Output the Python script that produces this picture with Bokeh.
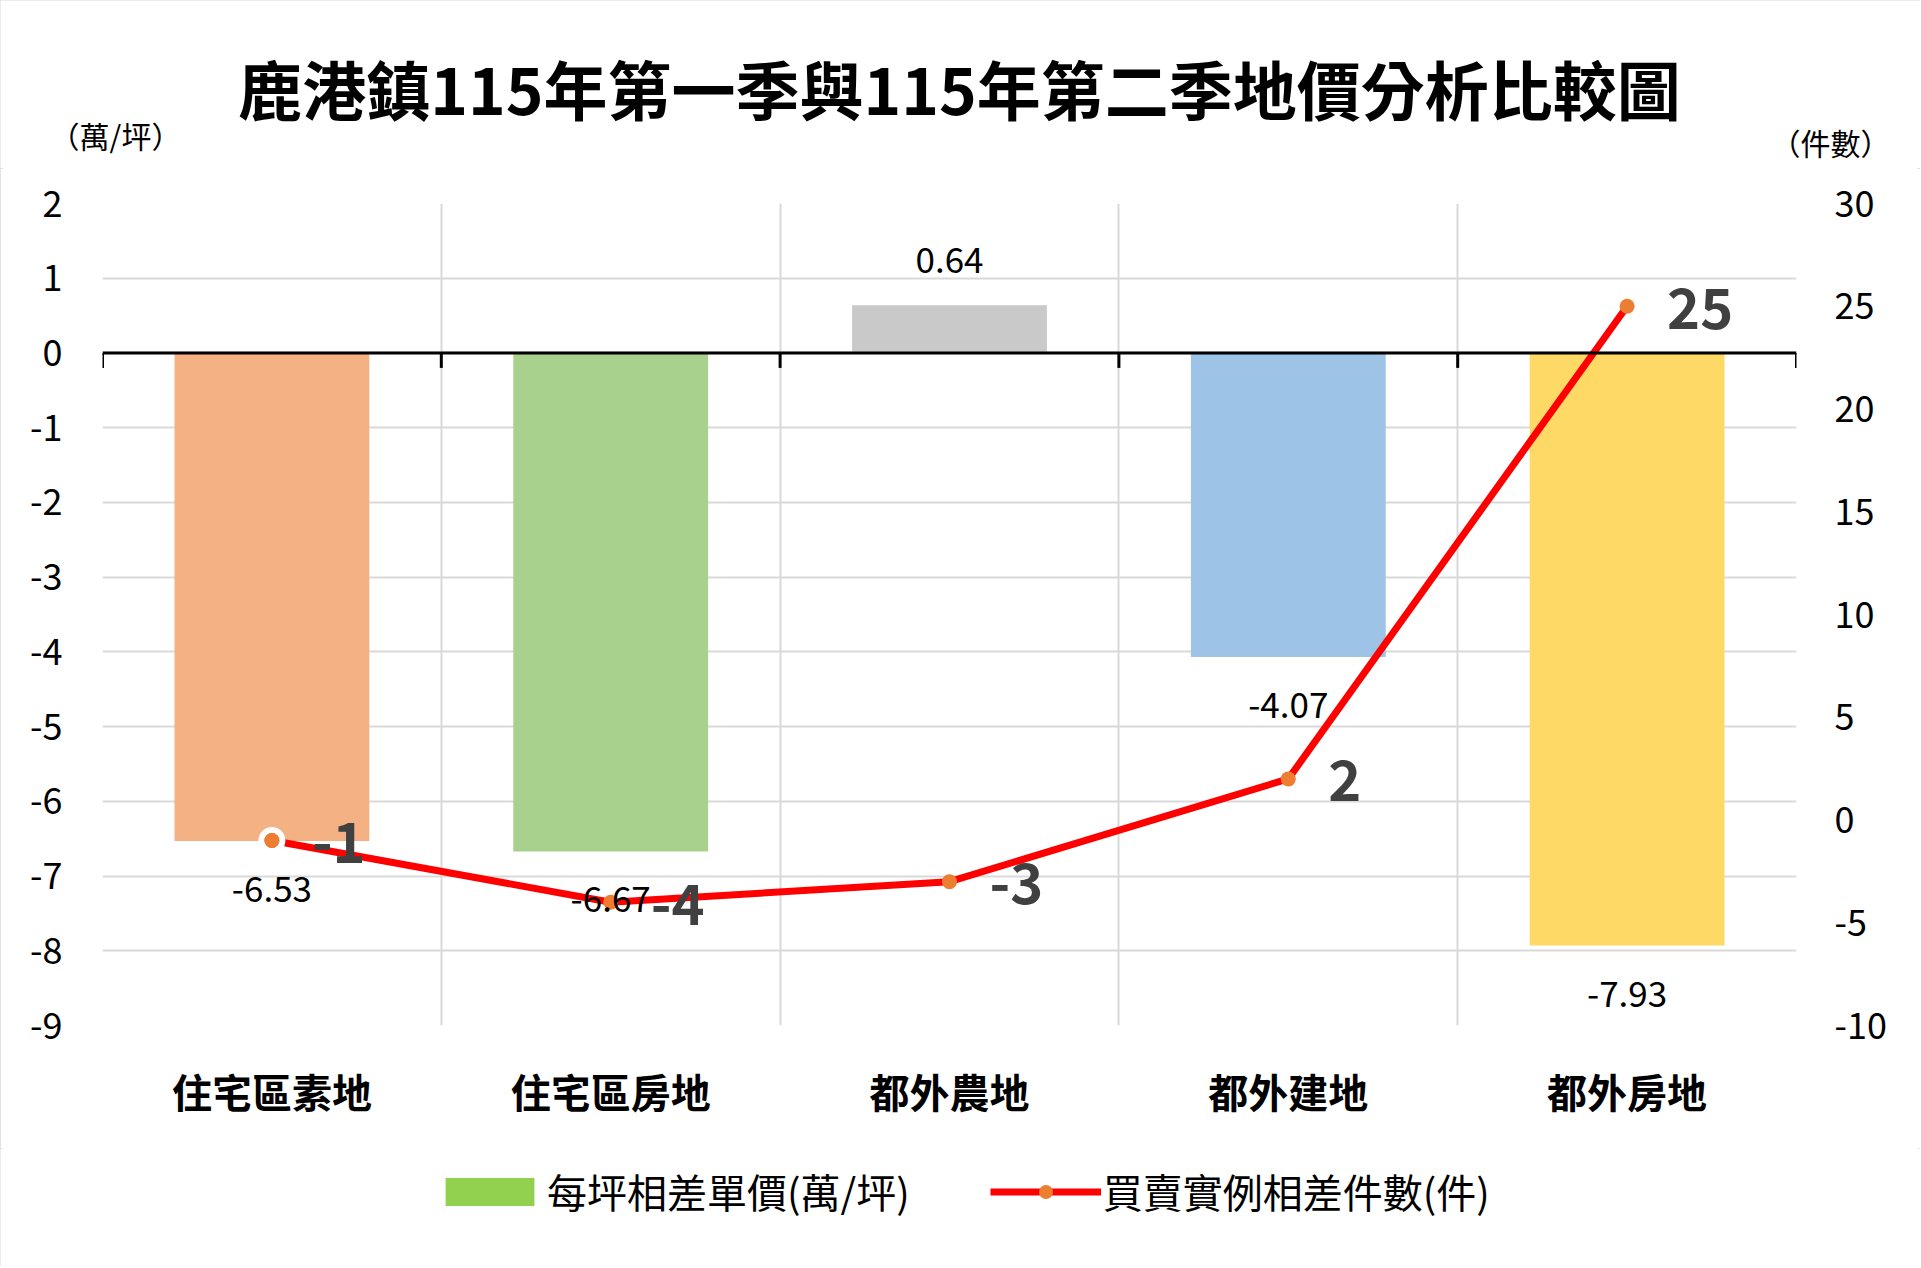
from bokeh.plotting import figure
from bokeh.layouts import column
from bokeh.models import (ColumnDataSource, Range1d, LinearAxis, FixedTicker,
                          Label, Legend, LegendItem, Span)
from bokeh.core.properties import value
from bokeh.embed import file_html
from bokeh.resources import INLINE

# ---------------- data ----------------
title_text = "鹿港鎮115年第一季與115年第二季地價分析比較圖"
categories = ["住宅區素地", "住宅區房地", "都外農地", "都外建地", "都外房地"]
price_diff = [-6.53, -6.67, 0.64, -4.07, -7.93]      # 每坪相差單價 (萬/坪), left axis
count_diff = [-1, -4, -3, 2, 25]                     # 買賣實例相差件數 (件), right axis
bar_colors = ["#F4B183", "#A9D18E", "#C9C9C9", "#9DC3E6", "#FFD966"]
left_ticks = list(range(-9, 3))
right_ticks = list(range(-10, 31, 5))
bar_series_name = "每坪相差單價(萬/坪)"
line_series_name = "買賣實例相差件數(件)"
left_unit = "（萬/坪）"
right_unit = "（件數）"

# ---------------- style ----------------
CJK = "Noto Sans CJK TC"
W = 1920
HEAD_H, MAIN_H, FOOT_H = 168, 980, 118
BL, BT, BB = 102, 35, 123
FRAME_W = 1694
BR = W - BL - FRAME_W

LINE_COLOR = "#FF0000"
MARK_COLOR = "#ED7D31"
LEGEND_BAR_COLOR = "#92D050"


def bare_figure(height, xr=(0, 1)):
    f = figure(width=W, height=height, output_backend="svg", toolbar_location=None,
               x_range=Range1d(*xr), y_range=Range1d(0, 1),
               x_axis_type=None, y_axis_type=None,
               min_border=0, min_border_left=0, min_border_right=0,
               min_border_top=0, min_border_bottom=0,
               outline_line_color=None, background_fill_color="white",
               border_fill_color="white")
    f.frame_align = False
    f.xgrid.visible = False
    f.ygrid.visible = False
    return f


# ---------------- header: title and axis units ----------------
head = bare_figure(HEAD_H)
head.add_layout(Label(x=959, y=HEAD_H - 86, x_units="screen", y_units="screen",
                      text=title_text, text_align="center", text_baseline="middle",
                      text_font=CJK, text_font_style="bold", text_font_size="64px",
                      text_color="#000000"))
head.add_layout(Label(x=115, y=HEAD_H - 134, x_units="screen", y_units="screen",
                      text=left_unit, text_align="center", text_baseline="middle",
                      text_font=CJK, text_font_size="30px", text_color="#000000"))
head.add_layout(Label(x=1830, y=HEAD_H - 141, x_units="screen", y_units="screen",
                      text=right_unit, text_align="center", text_baseline="middle",
                      text_font=CJK, text_font_size="30px", text_color="#000000"))

# ---------------- main chart ----------------
n = len(categories)
xs = [i + 0.5 for i in range(n)]
bounds = list(range(n + 1))

p = figure(width=W, height=MAIN_H, output_backend="svg", toolbar_location=None,
           x_range=Range1d(0, n), y_range=Range1d(min(left_ticks), max(left_ticks)),
           min_border_left=BL, min_border_right=BR, min_border_top=BT, min_border_bottom=BB,
           outline_line_color=None, background_fill_color="white",
           border_fill_color="white")
p.extra_y_ranges = {"right": Range1d(min(right_ticks), max(right_ticks))}

p.xgrid.ticker = FixedTicker(ticks=bounds)
p.ygrid.ticker = FixedTicker(ticks=left_ticks)
for g in (p.xgrid, p.ygrid):
    g.grid_line_color = "#D9D9D9"
    g.grid_line_width = 2

xa = p.xaxis[0]
xa.ticker = FixedTicker(ticks=xs)
xa.major_label_overrides = {x: c for x, c in zip(xs, categories)}
xa.axis_line_color = None
xa.major_tick_line_color = None
xa.minor_tick_line_color = None
xa.major_label_text_font = CJK
xa.major_label_text_font_style = "bold"
xa.major_label_text_font_size = "40px"
xa.major_label_text_color = "#000000"
xa.major_label_standoff = 30

ya = p.yaxis[0]
ya.ticker = FixedTicker(ticks=left_ticks)
ya.major_label_overrides = {t: str(t) for t in left_ticks}
yr = LinearAxis(y_range_name="right", ticker=FixedTicker(ticks=right_ticks))
yr.major_label_overrides = {t: str(t) for t in right_ticks}
p.add_layout(yr, "right")
for ax in (ya, yr):
    ax.axis_line_color = None
    ax.major_tick_line_color = None
    ax.minor_tick_line_color = None
    ax.major_label_text_font = CJK
    ax.major_label_text_font_size = "36px"
    ax.major_label_text_color = "#000000"
ya.major_label_standoff = 34
yr.major_label_standoff = 32

bar_src = ColumnDataSource(dict(x=xs, top=price_diff, color=bar_colors))
p.vbar(x="x", top="top", bottom=0, width=0.575, fill_color="color",
       line_color=None, source=bar_src)

# zero axis line with tick marks at category boundaries
p.add_layout(Span(location=0, dimension="width", line_color="black", line_width=3))
p.segment(x0=bounds, y0=[0] * len(bounds), x1=bounds, y1=[-0.2] * len(bounds),
          line_color="black", line_width=3)

p.line(x=xs, y=count_diff, y_range_name="right", line_color=LINE_COLOR,
       line_width=7, line_join="round", line_cap="round")
p.scatter(x=xs[:1], y=count_diff[:1], y_range_name="right", size=21,
          fill_color=MARK_COLOR, line_color="white", line_width=6)
p.scatter(x=xs, y=count_diff, y_range_name="right", size=15,
          fill_color=MARK_COLOR, line_color=None)

bar_offsets = [-45 if v > 0 else 48 for v in price_diff]
p.text(x=xs, y=price_diff, text=[f"{v:.2f}" for v in price_diff],
       y_offset=bar_offsets, text_align="center", text_baseline="middle",
       text_font=value(CJK), text_font_size="35px", text_color="#000000")

p.text(x=xs, y=count_diff, y_range_name="right", text=[str(v) for v in count_diff],
       x_offset=40, y_offset=2, text_align="left", text_baseline="middle",
       text_font=value(CJK), text_font_style="bold", text_font_size="56px",
       text_color="#404040")

# ---------------- footer: legend ----------------
# the legend renderers reuse the series data; the footer's x range keeps them out of view
foot = bare_figure(FOOT_H, xr=(-2, -1))
leg_bar = foot.vbar(x=xs, top=price_diff, width=0.575, fill_color=LEGEND_BAR_COLOR,
                    line_color=None)
leg_line = foot.line(x=xs, y=count_diff, line_color=LINE_COLOR, line_width=7)
leg_mark = foot.scatter(x=xs, y=count_diff, fill_color=MARK_COLOR, line_color=None)
legend = Legend(items=[LegendItem(label=bar_series_name, renderers=[leg_bar]),
                       LegendItem(label=line_series_name, renderers=[leg_line, leg_mark])],
                orientation="horizontal", location=(434, 46),
                glyph_width=111, glyph_height=35, label_standoff=2, spacing=80,
                padding=0, margin=0, border_line_color=None,
                background_fill_alpha=0, label_text_font=CJK,
                label_text_font_size="40px", label_text_color="#000000")
foot.add_layout(legend)

page = column(head, p, foot, spacing=0,
              styles={"outline": "3px solid #D9D9D9", "outline-offset": "-3px"})

open("out.html", "w").write(file_html(page, INLINE))
